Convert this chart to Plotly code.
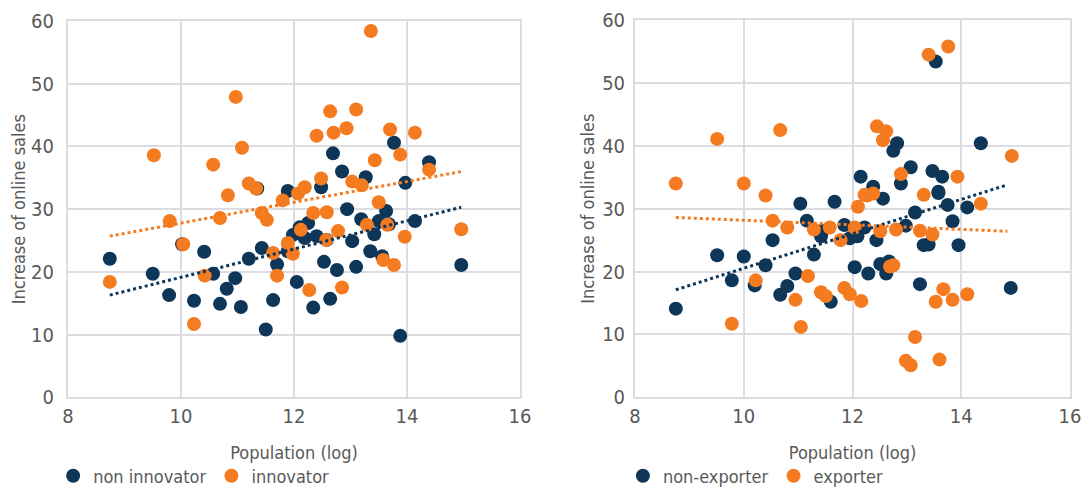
"""Online sales growth vs population: innovators and exporters side by side."""

import plotly.graph_objects as go
from plotly.subplots import make_subplots

# left panel: innovator split
non_innov_x = [8.74, 9.5, 9.79, 10.02, 10.23, 10.41, 10.57, 10.69, 10.81, 10.96, 11.06, 11.2,
               11.43, 11.35, 11.5, 11.63, 11.7, 11.89, 12.48, 13.97, 12.94, 13.19, 13.63, 13.5,
               13.68, 14.14, 12.1, 12.25, 11.98, 12.19, 12.4, 12.58, 13.03, 13.42, 13.35, 13.56,
               11.89, 12.53, 12.76, 13.1, 14.96, 12.05, 12.64, 12.34, 13.88, 12.69, 12.85,
               13.27, 13.77, 14.39]
non_innov_y = [22.1, 19.7, 16.3, 24.4, 15.4, 23.2, 19.7, 14.9, 17.3, 19.0, 14.4, 22.1,
               23.8, 33.3, 10.8, 15.5, 21.2, 32.9, 33.5, 34.2, 30.0, 28.4, 29.7, 28.1,
               27.6, 28.1, 27.1, 27.8, 25.9, 25.4, 25.7, 25.1, 24.9, 26.0, 23.3, 22.5,
               23.3, 21.6, 20.3, 20.8, 21.1, 18.4, 15.7, 14.3, 9.8, 38.9, 36.0,
               35.1, 40.6, 37.5]
innov_x = [10.97, 9.52, 11.08, 10.57, 11.2, 11.33, 10.83, 13.36, 12.64, 13.1, 12.4, 12.7,
           12.93, 13.7, 14.14, 13.88, 13.43, 14.39, 12.48, 12.19, 12.07, 13.03, 13.2, 11.8,
           13.5, 12.34, 12.58, 13.29, 13.65, 13.96, 12.12, 12.78, 11.89, 12.57, 11.98, 11.63,
           11.7, 13.58, 13.77, 12.27, 12.85, 14.96, 8.74, 9.8, 10.04, 10.42, 10.23, 10.69,
           11.43, 11.52]
innov_y = [47.9, 38.6, 39.8, 37.1, 34.1, 33.3, 32.2, 58.4, 45.6, 45.9, 41.7, 42.2,
           42.9, 42.7, 42.2, 38.7, 37.8, 36.3, 34.9, 33.5, 32.5, 34.4, 33.8, 31.4,
           31.1, 29.4, 29.5, 27.5, 27.5, 25.6, 26.7, 26.5, 24.6, 25.1, 22.9, 23.0,
           19.4, 21.9, 21.1, 17.1, 17.5, 26.8, 18.4, 28.1, 24.4, 19.4, 11.7, 28.6,
           29.4, 28.3]

# right panel: exporter split
non_exp_x = [13.53, 12.82, 12.75, 14.36, 13.07, 12.89, 12.15, 12.38, 13.47, 13.65, 13.58, 12.56,
             8.75, 9.51, 10.0, 9.78, 10.2, 10.4, 10.53, 11.04, 11.67, 11.16, 11.42, 11.45,
             11.29, 11.85, 10.95, 10.8, 10.67, 11.6, 13.58, 13.75, 14.11, 13.15, 13.84, 12.98,
             12.22, 12.09, 11.95, 12.44, 13.31, 13.4, 13.95, 12.04, 12.29, 12.51, 12.67, 12.62,
             13.24, 14.91]
non_exp_y = [53.4, 40.4, 39.2, 40.4, 36.6, 34.0, 35.1, 33.5, 36.0, 35.1, 32.7, 31.6,
             14.1, 22.6, 22.4, 18.6, 17.8, 21.0, 25.0, 30.8, 31.1, 28.1, 25.6, 26.5,
             22.7, 27.4, 19.7, 17.7, 16.3, 15.2, 32.5, 30.6, 30.2, 29.4, 28.0, 27.3,
             27.0, 25.6, 25.3, 25.0, 24.2, 24.3, 24.2, 20.7, 19.7, 21.2, 21.6, 19.7,
             18.0, 17.4]
exp_x = [9.51, 10.67, 8.75, 10.0, 10.4, 13.4, 13.76, 12.45, 12.62, 12.56, 14.93, 12.89,
         13.93, 13.31, 12.22, 12.38, 9.78, 10.22, 10.53, 10.8, 11.29, 11.58, 11.78, 11.18,
         10.95, 11.05, 11.42, 11.51, 11.85, 12.27, 12.1, 14.36, 13.24, 13.47, 12.8, 12.51,
         12.04, 12.69, 12.75, 11.95, 12.16, 13.67, 13.53, 13.84, 14.11, 13.15, 12.98, 13.07,
         13.6]
exp_y = [41.1, 42.5, 34.0, 34.0, 32.1, 54.5, 55.8, 43.1, 42.3, 40.9, 38.4, 35.5,
         35.1, 32.2, 32.2, 32.4, 11.7, 18.6, 28.1, 27.0, 26.7, 27.0, 25.0, 19.3,
         15.5, 11.2, 16.7, 16.1, 17.4, 32.1, 30.3, 30.8, 26.5, 25.9, 26.7, 26.4,
         27.0, 20.8, 21.0, 16.4, 15.3, 17.2, 15.2, 15.5, 16.4, 9.6, 5.8, 5.1,
         6.0]

# dotted linear trends, endpoints
trend_x_left = [8.74, 14.96]
trend_non_innov = [16.3, 30.3]
trend_innov = [25.7, 36.0]
trend_x_right = [8.75, 14.85]
trend_non_exp = [17.1, 33.8]
trend_exp = [28.6, 26.4]

x_ticks = [8, 10, 12, 14, 16]
y_ticks = [0, 10, 20, 30, 40, 50, 60]

NAVY = '#0d3658'
ORANGE = '#f47b20'
GRID = '#dcdce2'
TEXT = '#595959'
FONT = 'Liberation Sans Narrow, DejaVu Sans Condensed, Arial Narrow, sans-serif'

fig = make_subplots(rows=1, cols=2)

panels = [
    (1, 'legend', non_innov_x, non_innov_y, 'non innovator', innov_x, innov_y, 'innovator',
     trend_x_left, trend_non_innov, trend_innov),
    (2, 'legend2', non_exp_x, non_exp_y, 'non-exporter', exp_x, exp_y, 'exporter',
     trend_x_right, trend_non_exp, trend_exp),
]

for col, leg, ax, ay, aname, bx, by, bname, tx, ta, tb in panels:
    fig.add_trace(go.Scatter(
        x=ax, y=ay, mode='markers', name=aname, legend=leg,
        marker={"size": 14, "color": NAVY},
    ), row=1, col=col)
    fig.add_trace(go.Scatter(
        x=bx, y=by, mode='markers', name=bname, legend=leg,
        marker={"size": 14, "color": ORANGE},
    ), row=1, col=col)
    fig.add_trace(go.Scatter(
        x=tx, y=ta, mode='lines', showlegend=False,
        line={"color": NAVY, "width": 3, "dash": 'dot'},
    ), row=1, col=col)
    fig.add_trace(go.Scatter(
        x=tx, y=tb, mode='lines', showlegend=False,
        line={"color": ORANGE, "width": 3, "dash": 'dot'},
    ), row=1, col=col)

axis_common = dict(
    showgrid=True, gridcolor=GRID, gridwidth=1.5, zeroline=False,
    tickfont={"size": 20, "color": TEXT}, automargin=False,
    showline=True, linecolor=GRID, linewidth=2, mirror=True, ticks='',
)
fig.update_xaxes(range=[8, 16], tickvals=x_ticks, ticklabeloverflow='allow',
                 title={"text": 'Population (log)', "font": {"size": 18, "color": TEXT}, "standoff": 19},
                 **axis_common)
fig.update_yaxes(range=[0, 60], tickvals=y_ticks,
                 title={"text": 'Increase of online sales', "font": {"size": 18, "color": TEXT}},
                 **axis_common)
fig.update_yaxes(ticklabelstandoff=8, title_standoff=14, row=1, col=1)
fig.update_yaxes(ticklabelstandoff=4, title_standoff=3, row=1, col=2)

# the page body adds an 8px offset, so the figure is smaller than the window
fig.update_layout(
    width=1075, height=487,
    margin={"l": 0, "r": 0, "t": 0, "b": 0},
    paper_bgcolor='white', plot_bgcolor='white',
    font={"family": FONT, "color": TEXT},
    xaxis={"domain": [0.0558, 0.4763]},
    xaxis2={"domain": [0.5833, 0.9879]},
    yaxis={"domain": [0.194, 0.973]},
    yaxis2={"domain": [0.194, 0.975]},
    legend={"orientation": 'h', "x": 0.042, "y": 0.031, "xanchor": 'left', "yanchor": 'middle',
            "font": {"size": 18, "color": TEXT}, "itemwidth": 30, "bgcolor": 'rgba(0,0,0,0)'},
    legend2={"orientation": 'h', "x": 0.572, "y": 0.031, "xanchor": 'left', "yanchor": 'middle',
             "font": {"size": 18, "color": TEXT}, "itemwidth": 30, "bgcolor": 'rgba(0,0,0,0)'},
)

fig.write_html("out.html")
